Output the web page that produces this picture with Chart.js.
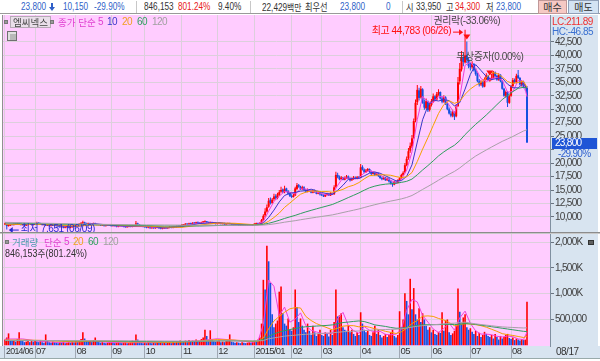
<!DOCTYPE html>
<html lang="ko"><head><meta charset="utf-8">
<title>엠씨넥스</title>
<script src="https://cdn.jsdelivr.net/npm/chart.js@4.4.1/dist/chart.umd.min.js"></script>
<style>
*{box-sizing:border-box;}
html,body{margin:0;padding:0;background:#fff;}
body{width:600px;height:361px;position:relative;overflow:hidden;
 font-family:"Liberation Sans","Noto Sans CJK KR",sans-serif;font-size:10px;color:#333;letter-spacing:-0.5px;}
.a{position:absolute;white-space:nowrap;line-height:12px;}
.k{font-family:"Noto Sans CJK KR",sans-serif;font-size:9.5px;letter-spacing:0;}
.sx{transform:scaleX(0.82);transform-origin:0 0;letter-spacing:0;}
#hdr{position:absolute;left:0;top:0;width:600px;height:14px;background:#fff;border-bottom:1px solid #9a9a9a;}
#hdr .a{top:1px;font-size:10px;}
.vs{position:absolute;top:1px;width:1px;height:12px;background:#C8C8C8;}
.blue{color:#2F5FC8}.red{color:#E82020}.dark{color:#333}
.btn{position:absolute;top:0;height:14px;font-size:10px;line-height:12px;text-align:center;letter-spacing:0;}
#rp{position:absolute;left:550px;top:15px;width:48px;height:331px;background:#D8E4F0;}
#strip{position:absolute;left:0;top:346px;width:600px;height:13px;background:#D8E4F0;border-bottom:1px solid #9aa;}
#pc{position:absolute;left:0;top:14px;}
#vc{position:absolute;left:0;top:233px;}
#sep{position:absolute;left:0;top:232px;width:600px;height:2px;border-top:1px solid #8c8c8c;border-bottom:1px solid #c8c8c8;}
#ledge{position:absolute;left:2px;top:15px;width:1px;height:331px;background:#909090;}
.bul{position:absolute;width:4px;height:4px;background:#9a9a9a;border:1px solid #777;}
</style></head><body>
<div id="hdr">
  <span class="a blue sx" style="left:21px">23,800</span>
  <div style="position:absolute;left:51px;top:3px;width:2px;height:4px;background:#2F5FC8"></div>
  <div style="position:absolute;left:49px;top:7px;width:0;height:0;border-left:3px solid transparent;border-right:3px solid transparent;border-top:4px solid #2F5FC8"></div>
  <span class="a blue sx" style="left:63px">10,150</span>
  <span class="a blue sx" style="left:94px">-29.90%</span>
  <div class="vs" style="left:136px"></div>
  <span class="a dark sx" style="left:144px">846,153</span>
  <span class="a red sx" style="left:178px">801.24%</span>
  <span class="a dark sx" style="left:218px">9.40%</span>
  <div class="vs" style="left:250px"></div>
  <span class="a dark sx" style="left:262px">22,429<span class="k">백만</span></span>
  <span class="a dark k sx" style="left:305px;font-size:10px">최우선</span>
  <span class="a blue sx" style="left:340px">23,800</span>
  <span class="a blue sx" style="left:386px">0</span>
  <div class="vs" style="left:402px"></div>
  <span class="a dark k sx" style="left:406px;font-size:10px">시</span>
  <span class="a dark sx" style="left:416px">33,950</span>
  <span class="a dark k sx" style="left:446px;font-size:10px">고</span>
  <span class="a red sx" style="left:455px">34,300</span>
  <span class="a dark k sx" style="left:486px;font-size:10px">저</span>
  <span class="a blue sx" style="left:496px">23,800</span>
  <div class="btn k" style="left:538px;width:29px;background:#F6C9C4;border:1px solid #C09898;color:#333">매수</div>
  <div class="btn k" style="left:568px;width:31px;background:#D3E3F3;border:1px solid #90A0B8;color:#333">매도</div>
</div>
<div id="rp"></div>
<div id="strip"></div>
<canvas id="pc" width="600" height="219"></canvas>
<canvas id="vc" width="600" height="128"></canvas>
<div id="sep"></div>
<div id="ledge"></div>
<!-- price legend -->
<div class="bul" style="left:4px;top:20px"></div>
<div class="a k" style="left:10px;top:16px;height:12px;padding:0 2px;background:#EADFEA;border:1px solid #B5ABB5;color:#444;line-height:10px">엠씨넥스</div>
<div class="bul" style="left:50px;top:20px"></div>
<span class="a k" style="left:58px;top:16px;color:#E040D0">종가 단순</span>
<span class="a" style="left:98px;top:16px;color:#E040D0">5</span>
<span class="a" style="left:107px;top:16px;color:#3838C8">10</span>
<span class="a" style="left:122px;top:16px;color:#F0A020">20</span>
<span class="a" style="left:137px;top:16px;color:#30A060">60</span>
<span class="a" style="left:152px;top:16px;color:#A0A0A0">120</span>
<div style="position:absolute;left:7px;top:31px;width:10px;height:10px;background:#B8B8B8;border:1px solid #707070;box-shadow:inset 2px 2px 0 #e0e0e0"></div>
<!-- volume legend -->
<div class="bul" style="left:5px;top:240px"></div>
<span class="a k" style="left:12px;top:236px;color:#4A98B0">거래량</span>
<span class="a k" style="left:44px;top:236px;color:#E040D0">단순</span>
<span class="a" style="left:64px;top:236px;color:#E040D0">5</span>
<span class="a" style="left:73px;top:236px;color:#F0A020">20</span>
<span class="a" style="left:88px;top:236px;color:#30A060">60</span>
<span class="a" style="left:103px;top:236px;color:#A0A0A0">120</span>
<div class="a sx" style="left:5px;top:247px;color:#333;transform:scaleX(0.9)">846,153<span class="k">주</span>(801.24%)</div>
<!-- right panel texts -->
<div class="a" style="left:552px;top:16px;color:#F03030">LC:211.89</div>
<div class="a" style="left:552px;top:26px;color:#3A70D0">HC:-46.85</div>
<div style="position:absolute;left:588px;top:240px;width:6px;height:5px;background:#606060;border:1px solid #333"></div>
<div class="a" style="left:556px;top:346px;color:#333">08/17</div>
<script>
// ---------------- DATA ----------------
const monthLabels = ['2014/06','07','08','09','10','11','12','2015/01','02','03','04','05','06','07','08'];
const monthStarts = [0,17,40,60,79,100,120,141,162,179,201,223,241,263,286];

const open = [
 8600,8500,8300,8400,8600,8500,8700,8600,8800,8700,8500,8600,8400,8500,8700,8600,8500,
 8600,8700,8900,8800,8600,8500,8600,8400,8500,8300,8400,8500,8400,8300,8200,8100,8200,8000,8100,8200,8000,8100,8300,
 8400,8500,8600,8700,8800,9000,8800,8700,8800,8600,8700,8800,8600,8500,8600,8400,8500,8300,8400,8500,
 8400,8300,8400,8300,8200,8300,8400,8300,8200,8100,8200,8300,8200,8400,8300,8800,8600,8400,8300,
 8200,8100,8000,8100,7900,8000,7900,8000,8100,7900,7800,7900,8000,7900,8000,8100,8000,8200,8100,8300,8200,
 8400,8500,8600,8700,8600,8800,8700,8900,8800,9000,8900,8800,9000,9100,9200,9000,8900,9000,8800,8900,
 8700,8800,8900,8700,8800,8600,8700,8800,8700,8600,8500,8600,8500,8400,8500,8400,8500,8400,8500,8400,8500,
 8600,8700,8800,8700,8900,9400,10300,11000,11900,13200,12600,13300,13900,13500,14100,14700,15100,14600,15300,14800,14400,
 13900,13700,14000,15200,15900,15600,15200,15500,15000,14700,15000,14800,14500,14900,14600,14300,14500,
 14200,14000,13800,14100,14300,14000,14400,14200,15600,17800,17400,17000,17300,16900,17200,17500,17100,16800,17000,17300,17100,17400,
 17300,19300,18800,18300,18600,18900,18400,18000,18200,17800,18100,17600,17200,17000,17300,16800,17100,16600,16200,16000,16500,16300,
 16800,17200,17800,18300,19600,20900,22300,23100,24700,27900,31300,33500,32200,33700,31300,30200,31400,29900,
 30800,31500,32400,31800,32800,33200,32000,31400,32200,31000,30000,29200,28800,29500,28700,30600,35200,37400,39600,38700,40000,39200,
 38000,37800,38400,37200,36500,35200,34600,35000,34200,35600,36200,35300,35600,35800,36800,36200,35500,36400,35200,33800,32500,33200,31200,
 32500,34300,35400,35000,36300,35800,34600,35100,34200,33950
];
const high = [
 8900,8600,8500,8700,8700,8800,8800,8900,8900,8800,8700,8700,8600,8800,8800,8700,8700,
 8900,9100,9000,8900,8700,8700,8700,8600,8600,8500,8600,8600,8500,8400,8300,8300,8300,8200,8300,8300,8200,8400,8500,
 8600,8700,8800,9000,9300,9100,8900,8900,8900,8800,8900,8900,8700,8700,8700,8600,8600,8500,8600,8600,
 8500,8500,8500,8400,8400,8500,8500,8400,8300,8300,8400,8400,8500,8500,9250,8900,8700,8500,8400,
 8300,8200,8200,8200,8100,8100,8100,8200,8200,8000,8000,8100,8100,8100,8200,8200,8300,8300,8400,8400,8500,
 8600,8700,8800,8800,8900,8900,9000,9000,9100,9100,9000,9100,9200,9300,9250,9100,9100,9100,9000,9000,
 8900,9000,9000,8900,8900,8800,8900,8900,8800,8700,8700,8700,8600,8600,8600,8600,8600,8600,8600,8600,8700,
 8800,8900,8900,9000,9600,10500,11600,12300,13500,13600,13500,14300,14200,14500,15000,15600,15300,15800,15400,15000,14600,
 14200,14300,15600,16300,16100,15800,15800,15700,15200,15300,15200,15000,15100,15100,14800,14700,14700,
 14400,14200,14300,14500,14400,14600,14500,15900,18400,18200,17700,17600,17400,17500,17800,17700,17300,17300,17600,17500,17600,17600,
 19850,19600,19000,18900,19100,19000,18600,18500,18400,18300,18200,17800,17400,17500,17400,17300,17200,16800,16400,16700,16700,17000,
 17400,18000,18500,20000,21200,22800,23800,25200,28300,31800,34500,34000,34300,33900,31800,32000,31600,31200,
 31900,32900,32600,33200,33700,33300,32300,32600,32400,31200,30300,29700,29900,29600,30900,36000,38600,40800,40200,44783,42600,39600,
 38600,38900,38600,37600,36800,35600,35400,35300,35900,36700,36400,35900,36600,37100,37000,36400,36700,36500,35400,34000,33500,33400,32700,
 34500,35800,35700,36600,37300,36000,35400,35300,34600,34300
];
const low = [
 8500,7651,8200,8300,8400,8400,8500,8500,8600,8400,8400,8300,8300,8400,8500,8400,8400,
 8500,8600,8700,8500,8400,8400,8300,8300,8200,8200,8300,8300,8200,8100,8000,8000,7900,7900,8000,7900,7900,8000,8200,
 8300,8400,8500,8600,8700,8700,8600,8600,8500,8500,8600,8500,8400,8400,8300,8300,8200,8200,8300,8300,
 8200,8200,8200,8100,8100,8200,8200,8100,8000,8000,8100,8100,8100,8200,8200,8500,8300,8200,8100,
 8000,7900,7900,7800,7800,7800,7800,7900,7800,7700,7700,7800,7800,7800,7900,7900,7900,8000,8000,8100,8100,
 8300,8400,8500,8500,8500,8600,8600,8700,8700,8800,8700,8700,8900,9000,8900,8800,8800,8700,8700,8600,
 8600,8700,8600,8600,8500,8500,8600,8600,8500,8400,8400,8400,8300,8300,8300,8300,8300,8300,8300,8300,8400,
 8500,8600,8600,8600,8800,9200,10000,10800,11700,12300,12400,13000,13200,13300,13900,14500,14400,14400,14600,14100,13700,
 13500,13600,13900,15000,15400,15000,15000,14900,14500,14600,14700,14400,14400,14500,14200,14200,14000,
 13900,13700,13700,14000,13900,13900,14100,14100,15400,17200,16800,16900,16800,16800,17100,17000,16600,16700,16900,17000,17000,17100,
 17200,18600,18100,18200,18500,18200,17800,17900,17600,17700,17400,17100,16800,16900,16700,16700,16400,16000,15600,15900,16100,16200,
 16700,17100,17600,18100,19400,20600,21900,22800,24500,27600,30800,31600,32000,31000,29900,30000,29500,29600,
 30500,31200,31500,31600,32500,31800,31100,31200,30800,29800,29000,28500,28500,28000,28500,30400,34600,37000,38000,38500,38600,37600,
 37200,37500,37000,36200,35000,34200,34300,34000,34100,35400,35200,35100,35400,35700,36000,35300,35300,35000,33600,32300,32200,30400,31000,
 32300,34000,34800,34800,35600,34400,34200,33900,33500,23800
];
const close = [
 8700,8300,8400,8600,8500,8700,8600,8800,8700,8500,8600,8400,8500,8700,8600,8500,8600,
 8700,8900,8800,8600,8500,8600,8400,8500,8300,8400,8500,8400,8300,8200,8100,8200,8000,8100,8200,8000,8100,8300,8400,
 8500,8600,8700,8900,9000,8800,8700,8800,8600,8700,8800,8600,8500,8600,8400,8500,8300,8400,8500,8400,
 8300,8400,8300,8200,8300,8400,8300,8200,8100,8200,8300,8200,8400,8300,8800,8600,8400,8300,8200,
 8100,8000,8100,7900,8000,7900,8000,8100,7900,7800,7900,8000,7900,8000,8100,8000,8200,8100,8300,8200,8400,
 8500,8600,8700,8600,8800,8700,8900,8800,9000,8900,8800,9000,9100,9200,9000,8900,9000,8800,8900,8700,
 8800,8900,8700,8800,8600,8700,8800,8700,8600,8500,8600,8500,8400,8500,8400,8500,8400,8500,8400,8500,8600,
 8700,8800,8700,8900,9400,10200,11000,11800,13000,12600,13200,13800,13500,14200,14600,15000,14700,15200,14800,14300,13900,
 13700,14000,15300,15900,15600,15200,15500,15000,14700,15000,14800,14500,14900,14600,14300,14500,14200,
 14000,13800,14100,14300,14000,14400,14200,15500,17800,17400,17000,17300,16900,17200,17500,17100,16800,17000,17300,17100,17400,17200,
 19200,18800,18300,18600,18900,18400,18000,18200,17800,18100,17600,17200,17000,17300,16800,17100,16600,16200,16000,16500,16300,16800,
 17200,17800,18200,19600,20800,22200,23200,24600,27800,31200,33600,32100,33800,31200,30300,31500,29800,30800,
 31500,32400,31800,32800,33200,32000,31400,32200,31000,30000,29200,28800,29500,28600,30500,35000,37500,39500,38800,40000,39200,38000,
 37800,38400,37200,36500,35200,34600,35000,34200,35600,36200,35400,35600,35800,36800,36200,35500,36400,35200,33800,32500,33200,31200,32400,
 34200,35400,35000,36200,35800,34600,35000,34200,33950,23800
];
// volume in thousands of shares
const volumeK = [
 110,150,230,100,80,90,70,120,250,90,80,60,70,90,60,80,70,
 90,70,60,80,60,50,210,90,60,50,70,60,50,40,60,50,70,40,50,60,50,70,60,
 80,70,90,120,250,130,90,70,80,60,100,150,70,60,50,60,50,40,50,60,
 60,50,40,50,60,50,40,50,60,40,50,60,90,70,210,110,70,50,40,
 50,40,60,50,40,50,40,60,50,70,40,50,40,50,60,40,70,50,80,60,90,
 80,70,90,60,100,70,90,80,110,70,80,120,150,300,180,100,290,110,80,70,
 80,90,60,70,60,80,90,210,70,60,50,60,50,40,60,50,40,50,60,50,80,
 90,80,110,150,420,1270,1080,1930,1630,1210,600,350,420,480,1040,1140,620,420,380,520,300,
 280,350,1080,740,450,520,380,300,250,420,280,200,380,250,180,220,300,
 200,180,250,220,170,300,200,450,1080,560,580,620,350,300,280,380,250,300,220,180,250,200,
 640,420,300,250,280,200,180,250,380,220,300,200,150,180,220,160,200,250,300,180,150,200,
 660,350,500,1010,860,600,1290,700,1110,600,500,720,450,620,500,380,300,350,
 250,300,220,200,260,240,640,280,480,500,250,200,230,280,400,1100,650,420,540,600,350,300,
 330,260,220,280,180,240,160,200,260,220,180,160,200,130,220,160,110,180,130,160,200,220,140,
 120,150,100,130,110,90,120,100,110,846.153
];
// moving-average lines at these days
const maDays = [0,10,20,30,40,50,60,70,80,90,100,110,120,130,140,143,146,149,152,155,158,161,164,167,170,173,176,179,182,185,188,191,194,197,200,203,206,209,212,215,218,221,224,227,230,233,236,239,242,245,248,251,254,257,260,263,266,269,272,275,278,281,284,287,290,293,295];
const ma5 = [8650,8660,8720,8360,8260,8720,8380,8220,8200,7940,8300,8880,8840,8640,8480,8660,9200,11080,12880,13860,14740,14580,14240,15200,15200,14800,14620,14320,14080,14200,15860,17280,17200,17140,17200,18180,18600,18260,17780,17180,16800,16320,16920,18720,22080,28080,32380,31320,31200,32340,32320,30760,29220,32220,38160,38760,37580,35700,35120,35700,35900,35420,33180,33280,35320,35160,32310];
const ma10 = [8650,8570,8630,8410,8190,8760,8450,8270,8330,7960,8170,8780,8940,8690,8470,8550,8870,9910,11260,12790,13980,14400,14550,14790,14880,15150,14850,14550,14320,14180,14950,15880,16990,17150,17150,17620,18120,18340,18110,17640,17170,16700,16730,17540,19670,23900,28050,30590,31700,31530,31790,31600,30590,31230,33740,36490,38290,37190,36070,35500,35720,35780,34660,33980,33970,34800,33815];
const ma20 = [8650,8600,8600,8520,8300,8475,8605,8360,8300,8145,8065,8475,8860,8815,8580,8535,8675,9185,9890,10715,11775,12580,13410,14215,14605,14795,14795,14695,14710,14580,14800,15125,15605,15890,16375,17070,17660,17750,17825,17810,17735,17485,17290,17455,18250,20290,22585,24725,26980,29210,30860,31590,31090,31475,32785,33750,34455,34965,35865,36820,36645,36015,35150,34805,34965,35195,34070];
const ma60 = [8900,8820,8740,8660,8600,8550,8510,8460,8400,8310,8320,8310,8400,8480,8500,8538,8613,8817,9078,9378,9717,10008,10290,10627,10937,11220,11502,11773,12037,12308,12722,13148,13590,14018,14455,14957,15413,15717,15938,16085,16168,16265,16412,16610,17023,17828,18717,19532,20407,21327,22075,22725,23310,24175,25285,26263,27200,28047,28932,29875,30852,31795,32547,33270,33887,34073,33937];
const ma120 = [9000,8920,8850,8780,8700,8650,8600,8560,8520,8500,8480,8470,8460,8455,8454,8457,8485,8573,8699,8849,9020,9166,9303,9473,9632,9787,9942,10087,10230,10378,10595,10816,11035,11250,11478,11748,12013,12267,12508,12732,12943,13137,13351,13619,13980,14524,15109,15653,16222,16819,17398,17937,18450,19097,19870,20610,21307,21882,22435,22980,23510,24030,24479,24940,25455,25951,26186];
const volMa5 = [120,122,74,54,64,80,52,48,50,54,72,86,126,96,56,82,406,1266,1144,578,740,448,506,628,380,290,258,230,230,228,518,638,386,286,230,362,290,258,270,210,202,216,308,676,892,840,578,450,316,246,324,430,292,532,662,424,278,216,216,204,174,160,178,166,122,110,253];
const volMa20 = [100,100,95,80,65,85,75,60,65,55,60,80,110,100,75,78,140,320,470,560,640,707,730,723,560,480,420,380,340,300,330,370,380,380,357,370,350,320,300,270,250,228,260,330,420,480,563,570,560,520,490,440,380,400,420,410,400,380,350,310,270,225,205,190,170,150,176];
const volMa60 = [90,90,90,88,85,82,80,75,70,68,70,75,85,85,80,85,112,170,220,255,283,305,323,345,359,365,372,378,385,395,420,440,450,462,472,460,430,395,380,365,345,330,330,345,370,385,395,400,400,400,405,405,400,410,420,415,405,390,375,360,345,330,315,300,285,270,265];
const volMa120 = [95,95,92,90,90,88,88,86,85,82,80,80,82,85,85,86,89,126,143,159,177,186,195,205,212,218,223,228,235,240,252,262,268,272,277,285,290,296,300,305,308,312,320,335,352,368,380,390,398,405,415,422,428,440,448,430,415,402,390,378,366,356,350,345,340,335,338];

const priceTicks = [10000,12500,15000,17500,20000,22500,25000,27500,30000,32500,35000,37500,40000,42500];
const volTicks = [500,1000,1500,2000];
const volTickLabels = ['500,000','1,000K','1,500K','2,000K'];
const highDate = '06/26', lowDate = '06/09';
const eventDays = [261, 274];
const eventLabels = ['권리락(-33.06%)', '무상증자(0.00%)'];
const lastChangeText = '-29.90%';

// ---------------- STYLE ----------------
const UP = '#FF0000', DOWN = '#1450E0';
const PINK = '#FFCCFF', GRID = '#DCCFDC';
const FAM = '"Liberation Sans","Noto Sans CJK KR",sans-serif';
const FONT = {family: FAM, size: 10};
const C5 = '#F040D8', C10 = '#3838C8', C20 = '#F5A000', C60 = '#2E9E5E', C120 = '#A8A0A8';
const fmt = v => String(v).replace(/\B(?=(\d{3})+(?!\d))/g, ',');
const N = close.length;
const X_MIN = -1.13, X_MAX = 308;

const bgPlugin = {
  id: 'bg',
  beforeDraw(chart) {
    const {ctx, chartArea: a} = chart;
    ctx.letterSpacing = '-0.7px';
    ctx.save(); ctx.fillStyle = PINK; ctx.fillRect(a.left, a.top, a.right - a.left, a.bottom - a.top); ctx.restore();
  }
};
const noPad = s => { s.paddingTop = 0; s.paddingBottom = 0; s.paddingLeft = 0; s.paddingRight = 0; };

const line = (days, vals, color) => ({
  type: 'line', data: days.map((d, k) => ({x: d, y: vals[k]})),
  borderColor: color, borderWidth: 1, pointRadius: 0, tension: 0, fill: false, order: 0
});

// ---------------- PRICE CHART ----------------
const candleColors = close.map((c, i) => c >= open[i] ? UP : DOWN);
const priceAnno = {
  id: 'priceAnno',
  afterDatasetsDraw(chart) {
    const {ctx, scales: {x, y}} = chart;
    ctx.save();
    ctx.letterSpacing = '-0.4px';
    ctx.font = '10px ' + FAM;
    ctx.textBaseline = 'middle';
    // highest
    let hi = 0; for (let i = 1; i < N; i++) if (high[i] > high[hi]) hi = i;
    const hx = x.getPixelForValue(hi), hy = y.getPixelForValue(high[hi]) + 2;
    ctx.fillStyle = '#FF1010'; ctx.strokeStyle = '#FF1010'; ctx.lineWidth = 1;
    ctx.textAlign = 'right';
    ctx.fillText('최고 ' + fmt(high[hi]) + ' (' + highDate + ')', hx - 14, hy);
    ctx.beginPath(); ctx.moveTo(hx - 12, hy + 0.5); ctx.lineTo(hx - 4, hy + 0.5); ctx.stroke();
    ctx.beginPath(); ctx.moveTo(hx - 2, hy + 0.5); ctx.lineTo(hx - 6, hy - 2.5); ctx.lineTo(hx - 6, hy + 3.5); ctx.closePath(); ctx.fill();
    // lowest
    let lo = 0; for (let i = 1; i < N; i++) if (low[i] < low[lo]) lo = i;
    const lx = x.getPixelForValue(lo), ly = y.getPixelForValue(low[lo]);
    ctx.fillStyle = '#2828D0'; ctx.strokeStyle = '#2828D0';
    ctx.beginPath(); ctx.moveTo(lx + 4, ly + 0.5); ctx.lineTo(lx + 12, ly + 0.5); ctx.stroke();
    ctx.beginPath(); ctx.moveTo(lx + 2, ly + 0.5); ctx.lineTo(lx + 6, ly - 2.5); ctx.lineTo(lx + 6, ly + 3.5); ctx.closePath(); ctx.fill();
    ctx.textAlign = 'left';
    ctx.fillText('최저 ' + fmt(low[lo]) + ' (' + lowDate + ')', lx + 14, ly);
    // events
    eventDays.forEach((d, k) => {
      const ex = x.getPixelForValue(d), ey = y.getPixelForValue(high[d]) - 2;
      ctx.fillStyle = '#FF1010';
      ctx.beginPath(); ctx.moveTo(ex, ey); ctx.lineTo(ex - 3.5, ey - 5); ctx.lineTo(ex + 3.5, ey - 5); ctx.closePath(); ctx.fill();
      ctx.fillStyle = '#484848'; ctx.textAlign = 'center';
      ctx.fillText(eventLabels[k], ex, ey - 18);
    });
    ctx.restore();
  },
  afterDraw(chart) {
    const {ctx, scales: {y}, chartArea: a} = chart;
    const py = Math.round(y.getPixelForValue(close[N - 1]));
    ctx.save();
    ctx.fillStyle = '#1F55D6';
    ctx.fillRect(a.right + 2, py - 5, 45, 11);
    ctx.font = '10px ' + FAM; ctx.textBaseline = 'middle'; ctx.textAlign = 'left';
    ctx.fillStyle = '#FFFFFF'; ctx.fillText(fmt(close[N - 1]), a.right + 5, py + 0.5);
    ctx.fillStyle = '#3060D0'; ctx.fillText(lastChangeText, a.right + 8, py + 11);
    ctx.restore();
  }
};

new Chart(document.getElementById('pc'), {
  type: 'bar',
  data: {datasets: [
    line(maDays, ma120, C120), line(maDays, ma60, C60), line(maDays, ma20, C20), line(maDays, ma10, C10), line(maDays, ma5, C5),
    {type: 'bar', data: close.map((c, i) => ({x: i, y: [low[i], high[i]]})), backgroundColor: candleColors,
     barThickness: 1, grouped: false, inflateAmount: 0, order: 2, minBarLength: 1},
    {type: 'bar', data: close.map((c, i) => ({x: i, y: [open[i], c]})), backgroundColor: candleColors,
     barThickness: 2, grouped: false, inflateAmount: 0, order: 1, minBarLength: 1}
  ]},
  options: {
    responsive: false, animation: false, devicePixelRatio: 1, events: [],
    layout: {padding: {left: 3, top: 1, right: 0, bottom: 1}},
    plugins: {legend: {display: false}, tooltip: {enabled: false}},
    scales: {
      x: {type: 'linear', min: X_MIN, max: X_MAX, offset: false,
          grid: {color: GRID, drawTicks: false, offset: false}, border: {display: false},
          ticks: {display: false},
          afterBuildTicks: s => { s.ticks = monthStarts.map(v => ({value: v})); },
          afterFit: s => { s.height = 0; noPad(s); }},
      y: {position: 'right', min: 7200, max: 47500,
          grid: {color: GRID, tickLength: 4, tickColor: '#6a7480'},
          border: {display: true, color: '#8090A0'},
          ticks: {font: FONT, color: '#404040', padding: 1, autoSkip: false,
                  callback: v => (v > close[N - 1] - 2500 && v < close[N - 1] + 1000) ? '' : fmt(v)},
          afterBuildTicks: s => { s.ticks = priceTicks.map(v => ({value: v})); },
          afterFit: s => { s.width = 50; noPad(s); }}
    }
  },
  plugins: [bgPlugin, priceAnno]
});

// ---------------- VOLUME CHART ----------------
const volColors = volumeK.map((v, i) => (i === 0 || v >= volumeK[i - 1]) ? UP : DOWN);
new Chart(document.getElementById('vc'), {
  type: 'bar',
  data: {datasets: [
    line(maDays, volMa120, C120), line(maDays, volMa60, C60), line(maDays, volMa20, C20), line(maDays, volMa5, C5),
    {type: 'bar', data: volumeK.map((v, i) => ({x: i, y: v})), backgroundColor: volColors,
     barThickness: 1.6, grouped: false, inflateAmount: 0, order: 1}
  ]},
  options: {
    responsive: false, animation: false, devicePixelRatio: 1, events: [],
    layout: {padding: {left: 3, top: 1, right: 0, bottom: 3}},
    plugins: {legend: {display: false}, tooltip: {enabled: false}},
    scales: {
      x: {type: 'linear', min: X_MIN, max: X_MAX, offset: false,
          grid: {color: GRID, tickLength: 12, tickColor: '#A0A8B4', offset: false}, border: {display: false},
          ticks: {font: c => ({family: FAM, size: c.index === 0 ? 8.8 : 9.5}), color: '#333', padding: -12,
                  align: 'start', autoSkip: false, maxRotation: 0,
                  labelOffset: 1, callback: (v, i) => monthLabels[i]},
          afterBuildTicks: s => { s.ticks = monthStarts.map(v => ({value: v})); },
          afterFit: s => { s.height = 12; noPad(s); }},
      y: {position: 'right', min: -15, max: 2160,
          grid: {color: GRID, tickLength: 4, tickColor: '#6a7480'},
          border: {display: true, color: '#8090A0'},
          ticks: {font: FONT, color: '#404040', padding: 1, autoSkip: false,
                  callback: v => volTickLabels[volTicks.indexOf(v)]},
          afterBuildTicks: s => { s.ticks = volTicks.map(v => ({value: v})); },
          afterFit: s => { s.width = 50; noPad(s); }}
    }
  },
  plugins: [bgPlugin]
});
</script>
</body></html>
